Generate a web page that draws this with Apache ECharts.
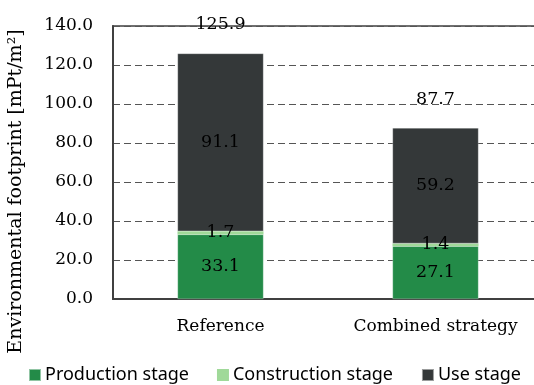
<!DOCTYPE html>
<html><head><meta charset="utf-8">
<script src="https://cdn.jsdelivr.net/npm/echarts@6/dist/echarts.min.js"></script>
<style>html,body{margin:0;padding:0;background:#fff}#c{width:534px;height:385px}</style>
</head><body><div id="c"></div>
<script>
const categories = ['Reference', 'Combined strategy'];
const production = [33.1, 27.1];
const construction = [1.7, 1.4];
const useStage = [91.1, 59.2];
const totals = [125.9, 87.7];
const yTicks = [0, 20, 40, 60, 80, 100, 120, 140];

const serif = 'DejaVu Serif';
const chart = echarts.init(document.getElementById('c'), null, {renderer: 'canvas'});
const lbl = {show: true, position: 'inside', color: '#000', fontFamily: serif, fontSize: 17.5,
  formatter: p => p.value.toFixed(1)};
chart.setOption({
  animation: false,
  grid: {left: 113, top: 26, bottom: 86, width: 430, outerBoundsMode: 'none', containLabel: false,
    show: true, borderColor: '#404040', borderWidth: 1.5},
  legend: {
    data: ['Production stage', 'Construction stage', 'Use stage'],
    top: 366, left: 28, width: 520, padding: 0, itemWidth: 12, itemHeight: 12, itemGap: 28,
    icon: 'rect',
    textStyle: {fontFamily: 'Noto Sans', fontSize: 18, color: '#000', padding: [0, 0, 0, -1]}
  },
  xAxis: {
    type: 'category', data: categories,
    axisLine: {lineStyle: {color: '#404040', width: 2}},
    axisTick: {show: false},
    axisLabel: {color: '#000', fontFamily: serif, fontSize: 17, margin: 19}
  },
  yAxis: {
    type: 'value', min: yTicks[0], max: yTicks[yTicks.length - 1], interval: 20,
    name: 'Environmental footprint [mPt/m²]', nameLocation: 'middle', nameGap: 87,
    nameTextStyle: {color: '#000', fontFamily: serif, fontSize: 19, padding: [0, 58, 0, 0]},
    axisLine: {show: true, lineStyle: {color: '#404040', width: 2}},
    axisTick: {show: false},
    axisLabel: {color: '#000', fontFamily: serif, fontSize: 17, margin: 20, formatter: v => v.toFixed(1)},
    splitLine: {lineStyle: {color: '#555', type: [7, 4], width: 1}}
  },
  series: [
    {name: 'Production stage', type: 'bar', stack: 's', barWidth: '40%', data: production,
      itemStyle: {color: '#238b48', borderColor: 'rgba(255,255,255,0.5)', borderWidth: 0.5}, label: lbl},
    {name: 'Construction stage', type: 'bar', stack: 's', data: construction,
      itemStyle: {color: '#a0d999'}, label: lbl},
    {name: 'Use stage', type: 'bar', stack: 's', data: useStage,
      itemStyle: {color: '#343839', borderColor: 'rgba(255,255,255,0.5)', borderWidth: 0.5}, label: lbl},
    {name: 'Total', type: 'bar', stack: 's', data: [0, 0],
      itemStyle: {color: 'transparent'},
      label: {show: true, position: 'top', distance: 20, color: '#000', fontFamily: serif, fontSize: 17.5,
        formatter: p => totals[p.dataIndex].toFixed(1)}}
  ]
});
</script></body></html>
